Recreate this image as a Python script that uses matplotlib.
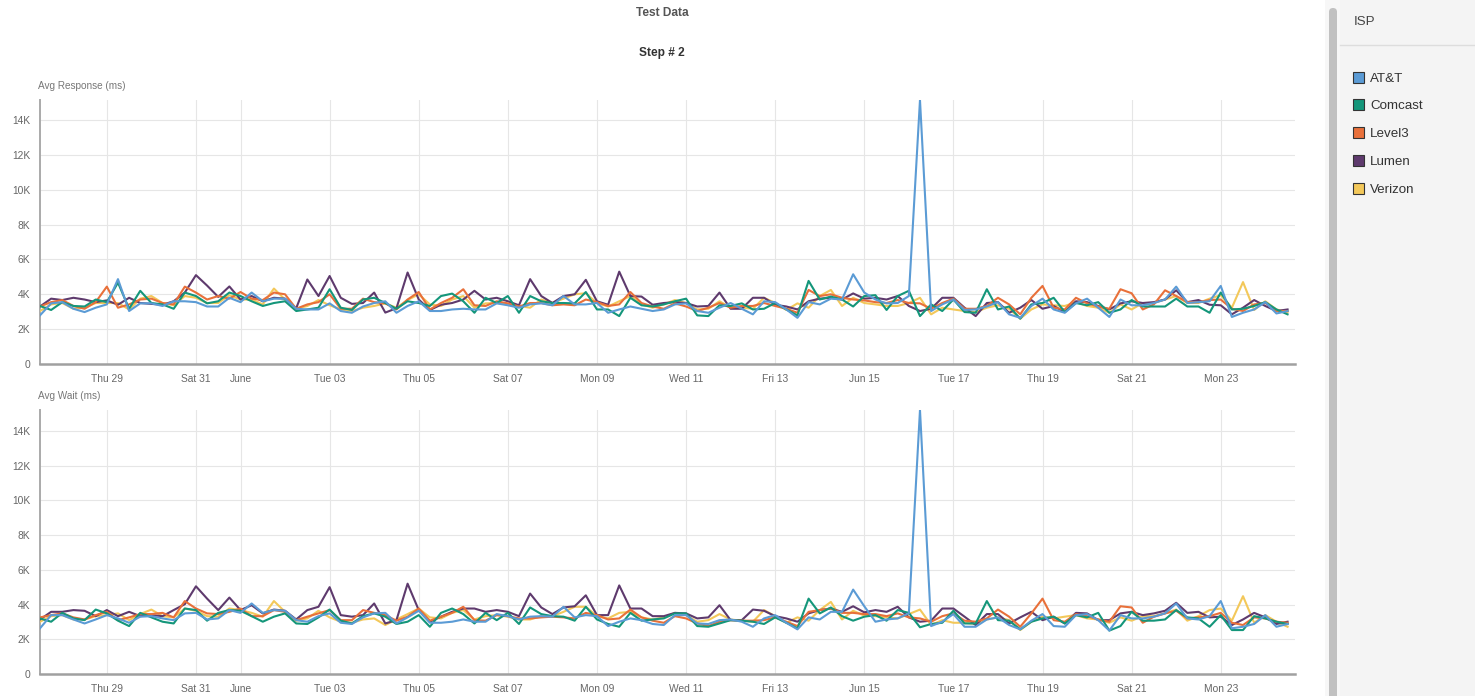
import numpy as np
import pandas as pd
import matplotlib
matplotlib.use("Agg")
import matplotlib.pyplot as plt
import matplotlib.patches as mpatches
from matplotlib.transforms import IdentityTransform
from matplotlib.ticker import FuncFormatter

plt.rcParams['font.family'] = ['Liberation Sans', 'DejaVu Sans']

# ── data (values in K ms, one point every 6 h from 2025-05-27 12:00) ──
times = pd.date_range("2025-05-27 12:00", periods=113, freq="6h")

isps = ["AT&T", "Comcast", "Level3", "Lumen", "Verizon"]
colors = ["#5b9bd5", "#14967a", "#e8703a", "#5e3a6d", "#f3c85a"]

att_resp = [2.79, 3.48, 3.55, 3.17, 2.98, 3.23, 3.42, 4.87, 3.04, 3.48,
            3.48, 3.33, 3.6, 3.6, 3.55, 3.3, 3.3, 3.8, 3.55, 4.1,
            3.6, 3.75, 3.75, 3.17, 3.13, 3.13, 3.48, 3.04, 2.94, 3.3,
            3.5, 3.6, 2.94, 3.33, 3.6, 3.04, 3.04, 3.13, 3.17, 3.13,
            3.13, 3.48, 3.37, 3.23, 3.42, 3.48, 3.37, 3.9, 3.42, 3.42,
            3.5, 2.94, 3.13, 3.3, 3.17, 3.04, 3.13, 3.42, 3.48, 3.04,
            2.94, 3.23, 3.5, 3.17, 2.85, 3.6, 3.55, 3.13, 2.65, 3.55,
            3.42, 3.75, 3.7, 5.15, 4.1, 3.7, 3.48, 3.5, 3.9, 15.15,
            3.04, 3.42, 3.7, 3.1, 3.13, 3.3, 3.55, 2.85, 2.65, 3.33,
            3.75, 3.13, 2.94, 3.48, 3.75, 3.23, 2.7, 3.7, 3.37, 3.37,
            3.5, 3.7, 4.44, 3.5, 3.55, 3.6, 4.48, 2.7, 2.94, 3.13,
            3.55, 2.9, 3.04]
comcast_resp = [3.33, 3.1, 3.55, 3.33, 3.3, 3.7, 3.55, 4.67, 3.17, 4.2,
                3.5, 3.42, 3.17, 4.1, 3.9, 3.48, 3.6, 4.1, 3.9, 3.6,
                3.33, 3.5, 3.6, 3.04, 3.13, 3.23, 4.29, 3.23, 3.1, 3.7,
                3.8, 3.5, 3.17, 3.6, 3.5, 3.33, 3.9, 4.04, 3.6, 2.94,
                3.8, 3.5, 3.9, 2.94, 3.9, 3.6, 3.5, 3.5, 3.48, 4.13,
                3.13, 3.13, 2.75, 3.8, 3.37, 3.3, 3.42, 3.6, 3.75, 2.79,
                2.75, 3.37, 3.33, 3.48, 3.13, 3.17, 3.5, 3.13, 2.79, 4.77,
                3.7, 3.87, 3.7, 3.3, 3.9, 3.95, 3.1, 3.9, 4.2, 2.75,
                3.42, 3.04, 3.7, 2.98, 2.94, 4.29, 3.13, 3.3, 2.6, 3.42,
                3.5, 3.8, 2.98, 3.5, 3.37, 3.55, 2.94, 3.13, 3.67, 3.3,
                3.3, 3.3, 3.75, 3.3, 3.3, 2.94, 4.1, 3.13, 3.17, 3.33,
                3.55, 3.13, 2.85]
level3_resp = [3.3, 3.55, 3.67, 3.33, 3.17, 3.55, 4.44, 3.23, 3.42, 3.7,
               3.75, 3.5, 3.42, 4.44, 4.1, 3.7, 3.9, 3.75, 4.13, 3.75,
               3.67, 4.1, 4.0, 3.17, 3.42, 3.55, 4.0, 3.17, 3.17, 3.75,
               3.55, 3.48, 3.13, 3.7, 4.13, 3.13, 3.5, 3.8, 4.29, 3.37,
               3.33, 3.6, 3.48, 3.3, 3.5, 3.5, 3.37, 3.42, 3.37, 3.7,
               3.55, 3.33, 3.42, 4.13, 3.5, 3.3, 3.17, 3.48, 3.3, 3.04,
               3.23, 3.5, 3.23, 3.33, 3.33, 3.5, 3.33, 3.17, 2.94, 4.25,
               3.9, 4.0, 3.8, 3.7, 3.65, 3.55, 3.5, 3.67, 3.5, 3.48,
               3.17, 3.5, 3.75, 3.17, 3.17, 3.33, 3.8, 3.42, 2.85, 3.8,
               4.48, 3.23, 3.13, 3.8, 3.48, 3.3, 3.17, 4.29, 4.06, 3.13,
               3.42, 4.23, 3.9, 3.55, 3.55, 3.67, 3.7, 3.17, 3.04, 3.42,
               3.5, 3.04, 3.04]
lumen_resp = [3.3, 3.75, 3.67, 3.8, 3.7, 3.55, 3.65, 3.4, 3.8, 3.5,
              3.45, 3.4, 3.6, 4.1, 5.1, 4.5, 3.85, 4.45, 3.7, 3.9,
              3.6, 3.8, 3.75, 3.2, 4.85, 3.9, 5.05, 3.8, 3.45, 3.5,
              4.1, 2.95, 3.2, 5.25, 3.7, 3.1, 3.4, 3.5, 3.7, 4.2,
              3.7, 3.8, 3.6, 3.37, 4.87, 3.9, 3.5, 3.9, 4.0, 4.83,
              3.6, 3.4, 5.3, 3.9, 3.87, 3.4, 3.5, 3.55, 3.5, 3.3,
              3.33, 4.1, 3.17, 3.17, 3.8, 3.8, 3.4, 3.3, 3.13, 3.6,
              3.75, 3.8, 3.7, 4.05, 3.75, 3.8, 3.7, 3.9, 3.33, 3.04,
              3.17, 3.8, 3.8, 3.23, 2.75, 3.5, 3.55, 2.94, 3.23, 3.67,
              3.17, 3.33, 2.98, 3.6, 3.55, 3.33, 3.13, 3.48, 3.6, 3.5,
              3.55, 3.7, 4.23, 3.55, 3.67, 3.4, 3.37, 2.85, 3.23, 3.67,
              3.33, 3.04, 3.13]
verizon_resp = [3.04, 3.42, 3.5, 3.17, 3.23, 3.5, 3.5, 3.5, 3.13, 3.75,
                3.9, 3.5, 3.37, 3.9, 3.8, 3.5, 3.5, 3.95, 3.7, 3.7,
                3.42, 4.33, 3.7, 3.17, 3.33, 3.67, 3.37, 3.13, 3.04, 3.23,
                3.33, 3.48, 3.23, 3.67, 4.0, 3.42, 3.33, 3.7, 3.9, 3.23,
                3.48, 3.5, 3.42, 3.33, 3.23, 3.7, 3.5, 3.75, 4.0, 4.06,
                3.5, 3.3, 3.6, 3.9, 3.42, 3.23, 3.42, 3.67, 3.5, 3.13,
                3.17, 3.6, 3.23, 3.23, 3.17, 3.8, 3.5, 3.1, 3.48, 3.23,
                3.9, 4.25, 3.33, 3.8, 3.5, 3.42, 3.33, 3.33, 3.5, 3.8,
                2.85, 3.23, 3.13, 3.04, 2.98, 3.23, 3.37, 3.17, 2.6, 3.13,
                3.42, 3.37, 3.33, 3.55, 3.33, 3.23, 2.94, 3.42, 3.13, 3.5,
                3.5, 3.7, 3.9, 3.5, 3.5, 3.75, 3.95, 3.23, 4.7, 3.1,
                3.6, 3.13, 2.98]

att_wait = [2.63, 3.39, 3.39, 3.14, 2.91, 3.14, 3.39, 3.2, 2.95, 3.3,
            3.33, 3.2, 3.1, 3.49, 3.52, 3.14, 3.2, 3.68, 3.52, 4.06,
            3.52, 3.68, 3.64, 3.1, 3.01, 3.33, 3.49, 2.95, 2.88, 3.26,
            3.49, 3.52, 2.91, 3.26, 3.64, 2.95, 2.95, 3.01, 3.14, 3.01,
            3.01, 3.45, 3.33, 3.14, 3.3, 3.33, 3.3, 3.87, 3.26, 3.39,
            3.33, 2.76, 3.01, 3.2, 3.1, 2.88, 2.82, 3.39, 3.39, 2.91,
            2.88, 3.1, 3.14, 3.01, 2.72, 3.2, 3.39, 2.95, 2.57, 3.26,
            3.14, 3.58, 3.58, 4.86, 3.9, 3.01, 3.14, 3.2, 3.49, 15.2,
            2.76, 3.01, 3.45, 2.72, 2.72, 3.14, 3.26, 2.82, 2.57, 3.07,
            3.45, 2.76, 2.72, 3.39, 3.45, 3.1, 2.5, 3.39, 3.2, 3.2,
            3.3, 3.49, 4.06, 3.2, 3.14, 3.33, 4.2, 2.63, 2.72, 2.88,
            3.39, 2.72, 2.88]
comcast_wait = [3.2, 3.01, 3.52, 3.2, 3.1, 3.71, 3.49, 3.07, 2.76, 3.52,
                3.26, 3.01, 2.91, 3.77, 3.68, 3.07, 3.52, 3.68, 3.64, 3.33,
                3.01, 3.3, 3.49, 2.91, 2.88, 3.26, 3.71, 3.07, 2.91, 3.33,
                3.49, 3.3, 2.88, 3.01, 3.39, 2.72, 3.52, 3.77, 3.45, 2.91,
                3.52, 3.1, 3.52, 2.88, 3.83, 3.45, 3.33, 3.3, 3.07, 3.87,
                3.14, 2.88, 2.72, 3.52, 3.07, 3.14, 3.2, 3.49, 3.49, 2.76,
                2.72, 2.91, 3.1, 3.07, 3.01, 2.88, 3.26, 2.95, 2.63, 4.34,
                3.49, 3.83, 3.33, 3.07, 3.3, 3.39, 3.07, 3.68, 3.52, 2.69,
                2.88, 2.95, 3.64, 2.91, 2.91, 4.2, 3.1, 3.07, 2.57, 3.01,
                3.2, 3.3, 2.91, 3.39, 3.26, 3.52, 2.5, 2.76, 3.58, 3.07,
                3.07, 3.14, 3.68, 3.26, 3.2, 2.72, 3.39, 2.53, 2.53, 3.33,
                3.2, 3.01, 2.88]
level3_wait = [3.26, 3.39, 3.49, 3.26, 3.14, 3.39, 3.58, 3.1, 3.26, 3.45,
               3.45, 3.52, 3.26, 4.2, 3.77, 3.49, 3.45, 3.58, 3.77, 3.33,
               3.33, 3.68, 3.58, 3.1, 3.3, 3.49, 3.68, 3.1, 3.1, 3.68,
               3.52, 3.39, 3.07, 3.3, 3.77, 3.07, 3.3, 3.52, 3.87, 3.1,
               3.07, 3.39, 3.33, 3.2, 3.2, 3.26, 3.3, 3.26, 3.2, 3.52,
               3.39, 3.14, 3.2, 3.71, 3.26, 3.07, 2.95, 3.33, 3.2, 2.91,
               2.76, 3.01, 3.1, 3.07, 3.07, 3.1, 3.26, 3.01, 2.76, 3.58,
               3.68, 3.77, 3.52, 3.52, 3.45, 3.45, 3.33, 3.49, 3.26, 3.2,
               3.01, 3.33, 3.49, 3.07, 3.01, 3.2, 3.71, 3.3, 2.72, 3.49,
               4.34, 3.1, 3.01, 3.45, 3.33, 3.14, 3.01, 3.9, 3.83, 2.95,
               3.3, 3.49, 3.64, 3.2, 3.26, 3.33, 3.52, 2.95, 2.82, 3.26,
               3.2, 3.01, 2.95]
lumen_wait = [3.14, 3.58, 3.58, 3.68, 3.64, 3.33, 3.68, 3.33, 3.58, 3.33,
              3.39, 3.33, 3.68, 4.02, 5.05, 4.34, 3.68, 4.4, 3.68, 3.96,
              3.49, 3.71, 3.64, 3.14, 3.68, 3.87, 5.0, 3.39, 3.3, 3.39,
              4.06, 2.91, 3.1, 5.2, 3.68, 3.01, 3.3, 3.58, 3.77, 3.77,
              3.58, 3.68, 3.58, 3.33, 4.63, 3.83, 3.45, 3.83, 3.9, 4.53,
              3.39, 3.39, 5.1, 3.77, 3.77, 3.33, 3.33, 3.52, 3.49, 3.2,
              3.26, 3.96, 3.1, 3.1, 3.71, 3.64, 3.33, 3.2, 3.01, 3.49,
              3.68, 3.77, 3.58, 3.9, 3.55, 3.68, 3.58, 3.87, 3.26, 3.01,
              3.07, 3.77, 3.77, 3.3, 2.82, 3.45, 3.45, 2.91, 3.26, 3.58,
              3.1, 3.3, 2.91, 3.52, 3.49, 3.1, 3.1, 3.49, 3.58, 3.39,
              3.49, 3.64, 4.1, 3.52, 3.58, 3.26, 3.3, 2.82, 3.14, 3.52,
              3.26, 2.88, 3.01]
verizon_wait = [3.01, 3.33, 3.39, 3.14, 3.14, 3.33, 3.39, 3.49, 3.1, 3.45,
                3.71, 3.33, 3.26, 3.77, 3.64, 3.33, 3.3, 3.77, 3.68, 3.52,
                3.3, 4.2, 3.58, 3.07, 3.2, 3.64, 3.26, 3.01, 2.95, 3.14,
                3.2, 2.82, 3.14, 3.45, 3.77, 3.26, 3.2, 3.52, 3.68, 3.14,
                3.33, 3.39, 3.3, 3.14, 3.14, 3.33, 3.33, 3.58, 3.87, 3.87,
                3.33, 3.2, 3.52, 3.58, 3.26, 3.14, 3.26, 3.52, 3.39, 3.01,
                3.1, 3.45, 3.14, 3.07, 3.01, 3.68, 3.33, 2.95, 3.26, 3.07,
                3.68, 4.15, 3.14, 3.64, 3.36, 3.33, 3.26, 3.2, 3.45, 3.71,
                2.82, 3.1, 2.95, 2.95, 2.88, 3.14, 3.26, 3.1, 2.53, 3.01,
                3.3, 3.2, 3.3, 3.39, 3.2, 3.14, 2.95, 3.26, 3.07, 3.33,
                3.33, 3.49, 3.71, 3.07, 3.33, 3.68, 3.77, 3.07, 4.48, 2.95,
                3.39, 3.01, 2.72]

resp_series = [att_resp, comcast_resp, level3_resp, lumen_resp, verizon_resp]
wait_series = [att_wait, comcast_wait, level3_wait, lumen_wait, verizon_wait]

tick_dates = pd.to_datetime(["2025-05-29", "2025-05-31", "2025-06-01", "2025-06-03",
                             "2025-06-05", "2025-06-07", "2025-06-09", "2025-06-11",
                             "2025-06-13", "2025-06-15", "2025-06-17", "2025-06-19",
                             "2025-06-21", "2025-06-23"])
tick_labels = ["Thu 29", "Sat 31", "June", "Tue 03", "Thu 05", "Sat 07", "Mon 09",
               "Wed 11", "Fri 13", "Jun 15", "Tue 17", "Thu 19", "Sat 21", "Mon 23"]
y_ticks = [0, 2000, 4000, 6000, 8000, 10000, 12000, 14000]

# ── figure ──
W, H = 1475, 696
fig = plt.figure(figsize=(W / 100, H / 100), dpi=100, facecolor="white")


def px_axes(x0, y0, x1, y1):
    # pixel box (top-left origin) -> axes
    return fig.add_axes([x0 / W, 1 - y1 / H, (x1 - x0) / W, (y1 - y0) / H])


def style_axes(ax, series, label):
    # first ISP ends up on top, Verizon underneath
    for k, (vals, col, name) in enumerate(zip(series, colors, isps)):
        ax.plot(times, np.array(vals) * 1000, color=col, lw=1.5, label=name,
                solid_joinstyle="round", zorder=8 - k)
    ymax = max(max(v) for v in series) * 1000
    ax.set_ylim(0, ymax)
    ax.set_xlim(times[0], times[-1] + pd.Timedelta(hours=4))
    ax.set_yticks(y_ticks)
    ax.yaxis.set_major_formatter(FuncFormatter(lambda v, p: "0" if v == 0 else f"{int(v / 1000)}K"))
    ax.set_xticks(tick_dates)
    ax.set_xticklabels(tick_labels)
    ax.tick_params(length=0, labelsize=7.4, colors="#666666")
    ax.tick_params(axis="x", pad=7)
    ax.tick_params(axis="y", pad=7)
    ax.grid(True, color="#e6e6e6", lw=0.8, zorder=0)
    for s in ["top", "right"]:
        ax.spines[s].set_visible(False)
    ax.spines["left"].set_color("#aaaaaa")
    ax.spines["left"].set_linewidth(1.4)
    ax.spines["bottom"].set_color("#a0a0a0")
    ax.spines["bottom"].set_linewidth(1.8)
    ax.text(-2 / 1255, 1.035, label, transform=ax.transAxes, fontsize=7.2,
            color="#777777", ha="left", va="bottom")


ax_top = px_axes(40, 100, 1295, 364)
style_axes(ax_top, resp_series, "Avg Response (ms)")
ax_bot = px_axes(40, 410, 1295, 674)
style_axes(ax_bot, wait_series, "Avg Wait (ms)")

fig.text(662 / W, 1 - 13 / H, "Test Data", ha="center", va="center",
         fontsize=8.6, fontweight="bold", color="#555555")
fig.text(662 / W, 1 - 53 / H, "Step # 2", ha="center", va="center",
         fontsize=8.6, fontweight="bold", color="#333333")

# ── legend side panel (pixel coordinates, origin bottom-left) ──
pix = IdentityTransform()
fig.patches.append(mpatches.Rectangle((1325, 0), 15, H, transform=pix,
                                      facecolor="#f7f7f7", edgecolor="none", zorder=0))
fig.patches.append(mpatches.FancyBboxPatch((1329, -20), 8, H - 8 + 20, transform=pix,
                                           boxstyle="round,pad=0,rounding_size=4",
                                           facecolor="#c1c1c1", edgecolor="none", zorder=1))
fig.patches.append(mpatches.Rectangle((1340, 0), W - 1340, H, transform=pix,
                                      facecolor="#f4f4f4", edgecolor="none", zorder=0))
fig.lines.append(plt.Line2D([1340, W], [H - 45, H - 45], transform=pix,
                            color="#dddddd", lw=1))
fig.text(1354 / W, 1 - 22 / H, "ISP", ha="left", va="center",
         fontsize=9.6, color="#444444")

for k, (name, col) in enumerate(zip(isps, colors)):
    yc = 77 + 27.8 * k
    fig.patches.append(mpatches.Rectangle((1353, H - yc - 5.5), 11, 11, transform=pix,
                                          facecolor=col, edgecolor="#333333", lw=0.8))
    fig.text(1370 / W, 1 - (yc + 1.5) / H, name, ha="left", va="center",
             fontsize=9.6, color="#333333")

fig.savefig("out.png", dpi=100)
